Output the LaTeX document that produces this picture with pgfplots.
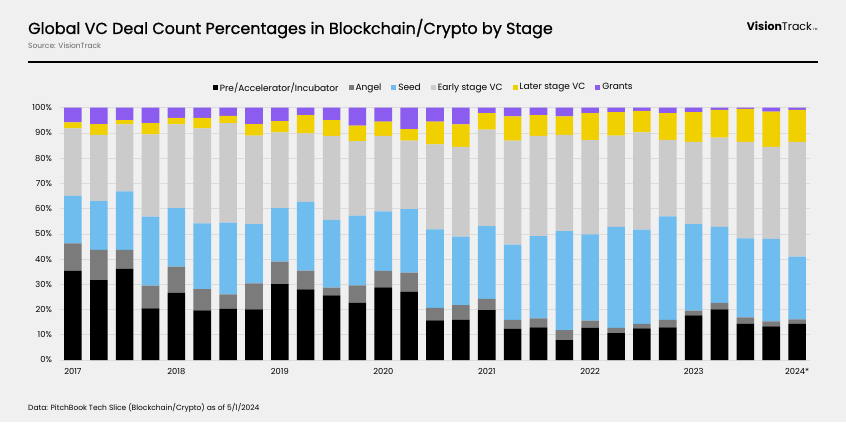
\documentclass[border=0pt]{standalone}
\usepackage{pgfplots}
\usepackage{pgfplotstable}
\pgfplotsset{compat=1.18}
\usepackage{fontspec}
\setmainfont{Poppins}

\definecolor{bg}{HTML}{F0F0F0}
\definecolor{gridc}{HTML}{DCDCDC}
\definecolor{cpre}{HTML}{000000}
\definecolor{cangel}{HTML}{7B7B7B}
\definecolor{cseed}{HTML}{6EBDEE}
\definecolor{cearly}{HTML}{CBCBCB}
\definecolor{clater}{HTML}{F0D000}
\definecolor{cgrant}{HTML}{8C5CF0}

% quarter, pre, angel, seed, early, later, grants (percent of deals)
\pgfplotstableread{
q  pre  angel seed early later grants
1  35.3 10.9 18.9 26.7 2.4  5.8
2  31.7 11.9 19.4 26.2 4.3  6.5
3  36.1 7.5  23.2 26.6 1.7  4.9
4  20.5 9.0  27.3 32.6 4.5  6.1
5  26.6 10.4 23.2 33.2 2.6  4.0
6  19.7 8.4  26.1 37.6 4.2  4.0
7  20.3 5.7  28.4 39.5 2.9  3.2
8  20.1 10.3 23.5 35.0 4.6  6.5
9  30.1 8.9  21.2 30.0 4.5  5.3
10 28.0 7.4  27.3 27.1 7.3  2.9
11 25.6 3.1  26.8 33.3 6.3  4.9
12 22.6 7.0  27.6 29.6 6.1  7.1
13 28.8 6.5  23.6 29.9 5.7  5.5
14 27.1 7.5  25.2 27.1 4.6  8.5
15 15.7 5.0  31.1 33.7 9.0  5.5
16 16.0 5.8  27.1 35.6 8.9  6.6
17 19.8 4.4  28.9 38.2 6.5  2.2
18 12.3 3.6  29.8 41.2 9.7  3.4
19 12.9 3.6  32.6 39.7 8.3  2.9
20 7.9  3.9  39.3 38.1 7.4  3.4
21 12.7 2.9  34.2 37.3 10.7 2.2
22 10.7 2.0  40.1 36.1 9.3  1.8
23 12.5 1.8  37.4 38.5 8.5  1.3
24 12.9 3.0  41.0 30.3 10.6 2.2
25 17.7 1.9  34.3 32.6 11.7 1.8
26 20.1 2.5  30.2 35.3 11.0 0.9
27 14.4 2.5  31.3 38.3 13.0 0.5
28 13.3 2.0  32.7 36.5 13.9 1.6
29 14.4 1.7  24.9 45.5 12.6 0.9
}\stages

\begin{document}
\begin{tikzpicture}[x=1bp,y=1bp]
\fill[bg] (0,0) rectangle (846,422);

% header
\node[anchor=base west, inner sep=0, font=\fontsize{16bp}{19bp}\selectfont\addfontfeature{FakeBold=0.8}]
  at (28,388) {Global VC Deal Count Percentages in Blockchain/Crypto by Stage};
\node[anchor=base west, inner sep=0, text=black!60, font=\fontsize{7.5bp}{9bp}\selectfont]
  at (28,374) {Source: VisionTrack};
\node[anchor=base east, inner sep=0, font=\fontsize{11bp}{13bp}\selectfont]
  at (812,391) {\textbf{Vision}Track};
\node[anchor=base west, inner sep=0, font=\fontsize{3bp}{4bp}\selectfont]
  at (813,391) {TM};
\draw[line width=1.2bp] (28,360) -- (818,360);

% footnote
\node[anchor=base west, inner sep=0, font=\fontsize{7.5bp}{9bp}\selectfont]
  at (28,12) {Data: PitchBook Tech Slice (Blockchain/Crypto) as of 5/1/2024};

\begin{axis}[
    at={(60bp,62bp)}, anchor=south west,
    width=750bp, height=252.3bp, scale only axis,
    ybar stacked, bar width=0.68,
    xmin=0.5, xmax=29.5, ymin=0, ymax=100,
    axis line style={draw=none},
    major tick length=0,
    ymajorgrids, grid style={gridc, line width=0.6bp},
    ytick={0,10,...,100},
    yticklabel={\pgfmathprintnumber{\tick}\%},
    xtick={1,5,9,13,17,21,25,29},
    xticklabels={2017,2018,2019,2020,2021,2022,2023,2024*},
    /pgf/number format/assume math mode=true,
    tick label style={font=\fontsize{8.3bp}{9bp}\selectfont},
    yticklabel style={anchor=east, inner sep=0, xshift=-8bp},
    xticklabel style={anchor=north, inner sep=0, yshift=-8bp},
    legend columns=6,
    legend style={at={(0.485,1.08)}, anchor=center, draw=none, fill=none,
        font=\fontsize{9bp}{10bp}\selectfont,
        /tikz/every even column/.append style={column sep=8bp}},
    legend image code/.code={\fill (0bp,-2.5bp) rectangle (5bp,2.5bp);},
]
\addplot[fill=cpre, draw=none] table[x=q, y=pre] {\stages};
\addplot[fill=cangel, draw=none] table[x=q, y=angel] {\stages};
\addplot[fill=cseed, draw=none] table[x=q, y=seed] {\stages};
\addplot[fill=cearly, draw=none] table[x=q, y=early] {\stages};
\addplot[fill=clater, draw=none] table[x=q, y=later] {\stages};
\addplot[fill=cgrant, draw=none] table[x=q, y=grants] {\stages};
\legend{Pre/Accelerator/Incubator, Angel, Seed, Early stage VC, Later stage VC, Grants}
\end{axis}
\end{tikzpicture}
\end{document}
